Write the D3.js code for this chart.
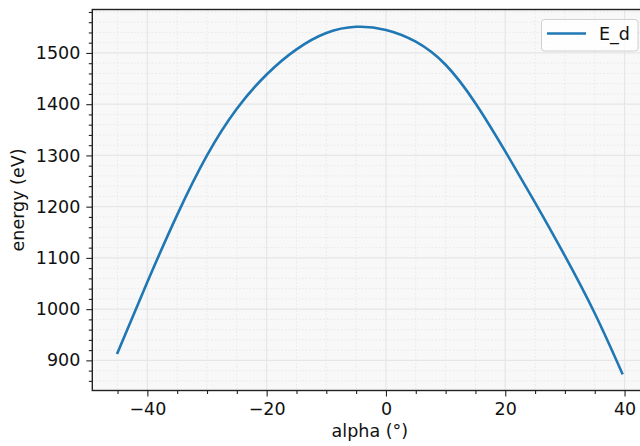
<!DOCTYPE html>
<html>
<head>
<meta charset="utf-8">
<script src="https://cdn.jsdelivr.net/npm/d3@7"></script>
<style>
  html, body { margin: 0; padding: 0; background: #ffffff; }
  svg { display: block; font-family: "DejaVu Sans", sans-serif; }
</style>
</head>
<body>
<svg id="chart"></svg>
<script>
// values
const alphaDeg = [-45, -40, -35, -30, -25, -20, -15, -10, -5, 0, 5, 10, 15, 20, 25, 30, 35, 39.6];
const energyEd = [915, 1053, 1184, 1300, 1391, 1458, 1507, 1539, 1551, 1545, 1522, 1477, 1402, 1308, 1208, 1104, 992, 875];
const seriesName = "E_d";
const xMajorTicks = [-40, -20, 0, 20, 40];
const yMajorTicks = [900, 1000, 1100, 1200, 1300, 1400, 1500];

const width = 640;
const height = 446;
const plot = { left: 92.3, right: 647.4, top: 9.5, bottom: 390.5 };
const fontSize = 17.5;
const lineColor = "#1f77b4";

const data = alphaDeg.map((a, i) => ({ a: a, e: energyEd[i] }));

// matplotlib-like 5% margins
function padded(extent) {
    const pad = (extent[1] - extent[0]) * 0.05;
    return [extent[0] - pad, extent[1] + pad];
}

const x = d3.scaleLinear()
    .domain(padded(d3.extent(alphaDeg)))
    .range([plot.left, plot.right]);
const y = d3.scaleLinear()
    .domain(padded(d3.extent(energyEd)))
    .range([plot.bottom, plot.top]);

const xMinor = d3.range(-45, 45, 5).filter(v => !xMajorTicks.includes(v) && v >= x.domain()[0] && v <= x.domain()[1]);
const yMinor = d3.range(840, 1590, 20).filter(v => !yMajorTicks.includes(v) && v >= y.domain()[0] && v <= y.domain()[1]);

const svg = d3.select("#chart")
    .attr("width", width)
    .attr("height", height);

svg.append("rect")
    .attr("x", plot.left)
    .attr("y", plot.top)
    .attr("width", plot.right - plot.left)
    .attr("height", plot.bottom - plot.top)
    .attr("fill", "#f8f8f8");

// grid
const grid = svg.append("g");
grid.selectAll(".xminor").data(xMinor).join("line")
    .attr("x1", d => x(d)).attr("x2", d => x(d))
    .attr("y1", plot.top).attr("y2", plot.bottom)
    .attr("stroke", "#e4e4e4").attr("stroke-width", 0.8)
    .attr("stroke-dasharray", "1.5,2");
grid.selectAll(".yminor").data(yMinor).join("line")
    .attr("y1", d => y(d)).attr("y2", d => y(d))
    .attr("x1", plot.left).attr("x2", plot.right)
    .attr("stroke", "#e4e4e4").attr("stroke-width", 0.8)
    .attr("stroke-dasharray", "1.5,2");
grid.selectAll(".xmajor").data(xMajorTicks).join("line")
    .attr("x1", d => x(d)).attr("x2", d => x(d))
    .attr("y1", plot.top).attr("y2", plot.bottom)
    .attr("stroke", "#e6e6e6").attr("stroke-width", 1.2);
grid.selectAll(".ymajor").data(yMajorTicks).join("line")
    .attr("y1", d => y(d)).attr("y2", d => y(d))
    .attr("x1", plot.left).attr("x2", plot.right)
    .attr("stroke", "#e6e6e6").attr("stroke-width", 1.2);

// the curve
const line = d3.line()
    .x(d => x(d.a))
    .y(d => y(d.e))
    .curve(d3.curveNatural);

svg.append("path")
    .datum(data)
    .attr("d", line)
    .attr("fill", "none")
    .attr("stroke", lineColor)
    .attr("stroke-width", 2.6)
    .attr("stroke-linecap", "square");

// axes
function styleAxis(g) {
    g.select(".domain").remove();
    g.selectAll(".tick line").attr("stroke", "#222").attr("stroke-width", 1.1);
    g.selectAll(".tick text")
        .attr("fill", "#111")
        .attr("font-size", fontSize)
        .attr("font-family", "DejaVu Sans, sans-serif");
}

const xAxis = svg.append("g")
    .attr("transform", `translate(0,${plot.bottom})`)
    .call(d3.axisBottom(x).tickValues(xMajorTicks).tickSize(6).tickPadding(6)
        .tickFormat(d => d < 0 ? "\u2212" + Math.abs(d) : d));
styleAxis(xAxis);
svg.append("g")
    .attr("transform", `translate(0,${plot.bottom})`)
    .call(d3.axisBottom(x).tickValues(xMinor).tickSize(3.5).tickFormat(""))
    .call(styleAxis);

const yAxis = svg.append("g")
    .attr("transform", `translate(${plot.left},0)`)
    .call(d3.axisLeft(y).tickValues(yMajorTicks).tickSize(6).tickPadding(6)
        .tickFormat(d3.format("d")));
styleAxis(yAxis);
svg.append("g")
    .attr("transform", `translate(${plot.left},0)`)
    .call(d3.axisLeft(y).tickValues(yMinor).tickSize(3.5).tickFormat(""))
    .call(styleAxis);

// spines
svg.append("rect")
    .attr("x", plot.left)
    .attr("y", plot.top)
    .attr("width", plot.right - plot.left)
    .attr("height", plot.bottom - plot.top)
    .attr("fill", "none")
    .attr("stroke", "#222")
    .attr("stroke-width", 1.4);

// axis labels
svg.append("text")
    .attr("x", (plot.left + plot.right) / 2)
    .attr("y", 437)
    .attr("text-anchor", "middle")
    .attr("font-size", fontSize)
    .attr("fill", "#111")
    .text("alpha (\u00b0)");

svg.append("text")
    .attr("transform", `translate(24,${(plot.top + plot.bottom) / 2}) rotate(-90)`)
    .attr("text-anchor", "middle")
    .attr("font-size", fontSize)
    .attr("fill", "#111")
    .text("energy (eV)");

// legend
const legend = svg.append("g");
legend.append("rect")
    .attr("x", 541.5).attr("y", 19.5)
    .attr("width", 96.5).attr("height", 31.5)
    .attr("rx", 3)
    .attr("fill", "#ffffff").attr("fill-opacity", 0.8)
    .attr("stroke", "#d0d0d0").attr("stroke-width", 1);
legend.append("line")
    .attr("x1", 547).attr("x2", 586)
    .attr("y1", 33.5).attr("y2", 33.5)
    .attr("stroke", lineColor).attr("stroke-width", 2.6);
legend.append("text")
    .attr("x", 599).attr("y", 40)
    .attr("font-size", fontSize)
    .attr("fill", "#111")
    .text(seriesName);
</script>
</body>
</html>
